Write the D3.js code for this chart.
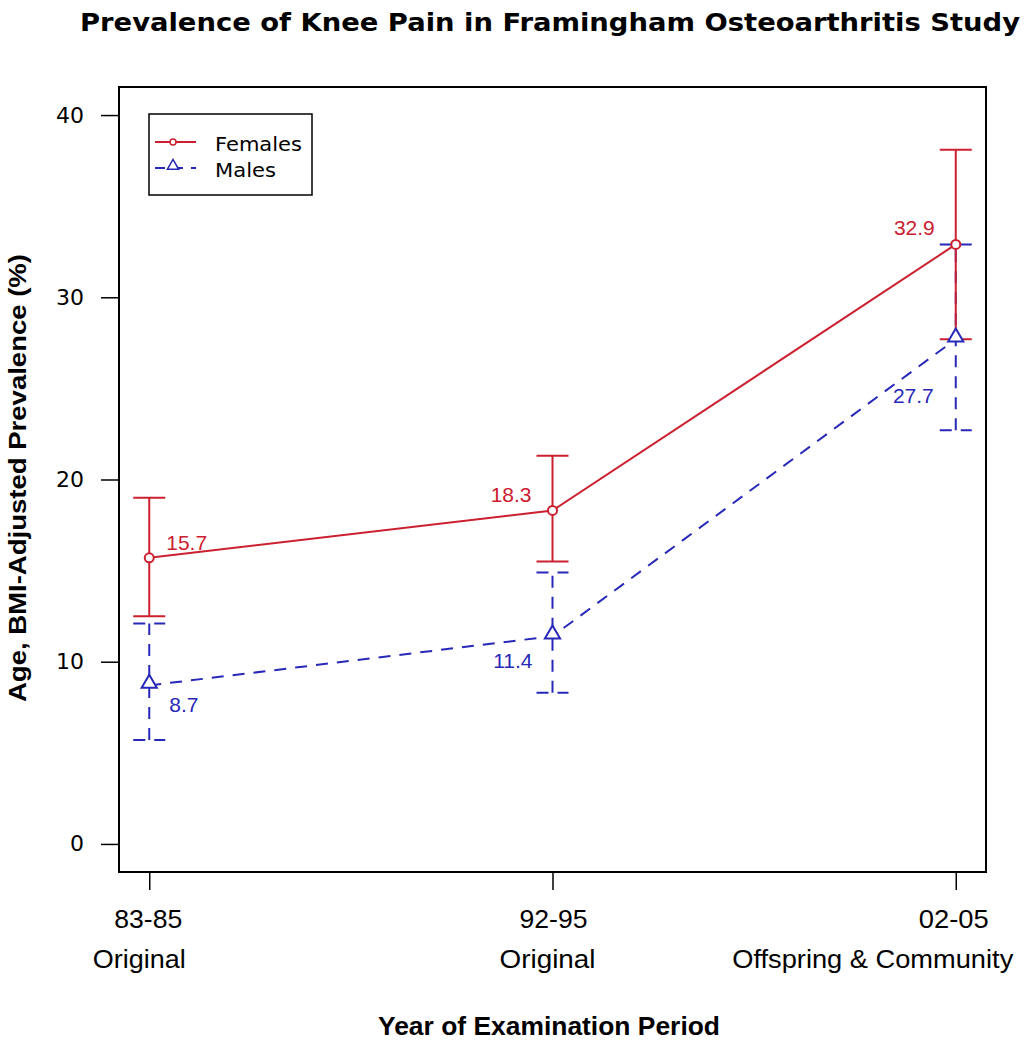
<!DOCTYPE html>
<html><head><meta charset="utf-8">
<script src="https://cdn.jsdelivr.net/npm/d3@7"></script>
<style>body{margin:0;background:#fff}svg{display:block}</style>
</head><body>
<svg id="c" width="1032" height="1050"></svg>
<script>
const periods = ["83-85", "92-95", "02-05"];
const cohorts = ["Original", "Original", "Offspring & Community"];
const femaleValues = [15.7, 18.3, 32.9];
const femaleLower = [12.5, 15.5, 27.7];
const femaleUpper = [19.0, 21.3, 38.1];
const maleValues = [8.7, 11.4, 27.7];
const maleLower = [5.7, 8.3, 22.7];
const maleUpper = [12.1, 14.9, 32.9];
const yTicks = [0, 10, 20, 30, 40];
const seriesNames = ["Females", "Males"];

const svg = d3.select("#c");
const L = 119, R = 986, T = 87, B = 872;
const x = d3.scaleLinear().domain([-0.075, 2.075]).range([L, R]);
const y = d3.scaleLinear().domain([-1.54, 41.54]).range([B, T]);
const red = "#cc2030", blue = "#2828b8";
const sans = "'Liberation Sans', Arial, sans-serif";
const narrow = "'Liberation Sans Narrow', 'Arial Narrow', 'Liberation Sans', sans-serif";
const wide = "'DejaVu Sans', Verdana, sans-serif";

// Title
svg.append("text").attr("x", 550).attr("y", 31).attr("text-anchor", "middle")
  .attr("font-family", wide).attr("font-weight", "bold").attr("font-size", 24)
  .attr("textLength", 940).attr("lengthAdjust", "spacingAndGlyphs")
  .text("Prevalence of Knee Pain in Framingham Osteoarthritis Study");

// Box
svg.append("rect").attr("x", L).attr("y", T).attr("width", R - L).attr("height", B - T)
  .attr("fill", "none").attr("stroke", "#000").attr("stroke-width", 2);

// Y axis
const ya = svg.append("g").attr("transform", `translate(${L},0)`)
  .call(d3.axisLeft(y).tickValues(yTicks).tickSize(18).tickPadding(17).tickFormat(d3.format("d")));
ya.select(".domain").remove();
ya.selectAll("line").attr("stroke", "#000").attr("stroke-width", 1.5);
ya.selectAll("text").attr("font-family", wide).attr("font-size", 22).attr("fill", "#000");

// X axis
const xa = svg.append("g").attr("transform", `translate(0,${B})`)
  .call(d3.axisBottom(x).tickValues([0, 1, 2]).tickSize(18).tickFormat(""));
xa.select(".domain").remove();
xa.selectAll("line").attr("stroke", "#000").attr("stroke-width", 1.5);
const xl = svg.append("g");
const pW = [68, 68, 70];
const cW = [93, 96, 281];
const pX = [149, 554, 953];
const cX = [140, 548, 872];
periods.forEach((p, i) => {
  xl.append("text").attr("x", x(i) + (pX[i] - [150, 553, 955][i])).attr("y", 928)
    .attr("text-anchor", "middle").attr("font-family", sans).attr("font-size", 26)
    .attr("textLength", pW[i]).attr("lengthAdjust", "spacingAndGlyphs").text(p);
  xl.append("text").attr("x", x(i) + (cX[i] - [150, 553, 955][i])).attr("y", 968)
    .attr("text-anchor", "middle").attr("font-family", sans).attr("font-size", 26)
    .attr("textLength", cW[i]).attr("lengthAdjust", "spacingAndGlyphs").text(cohorts[i]);
});

// Axis titles
svg.append("text").attr("x", 549).attr("y", 1035).attr("text-anchor", "middle")
  .attr("font-family", narrow).attr("font-weight", "bold").attr("font-size", 26)
  .attr("textLength", 342).attr("lengthAdjust", "spacingAndGlyphs")
  .text("Year of Examination Period");
svg.append("text").attr("transform", "translate(26,478) rotate(-90)").attr("text-anchor", "middle")
  .attr("font-family", narrow).attr("font-weight", "bold").attr("font-size", 24)
  .attr("textLength", 448).attr("lengthAdjust", "spacingAndGlyphs")
  .text("Age, BMI-Adjusted Prevalence (%)");

const line = d3.line().x((d, i) => x(i)).y(d => y(d));
const capW = 16;

function errorBars(vals, lo, hi, color, dash) {
  const g = svg.append("g").attr("stroke", color).attr("stroke-width", 2).attr("fill", "none");
  vals.forEach((v, i) => {
    g.append("line").attr("x1", x(i)).attr("x2", x(i)).attr("y1", y(lo[i])).attr("y2", y(hi[i]))
      .attr("stroke-dasharray", dash);
    [lo[i], hi[i]].forEach(e => g.append("line").attr("x1", x(i) - capW).attr("x2", x(i) + capW)
      .attr("y1", y(e)).attr("y2", y(e)).attr("stroke-dasharray", dash));
  });
}
// Males
svg.append("path").datum(maleValues).attr("d", line).attr("fill", "none")
  .attr("stroke", blue).attr("stroke-width", 2).attr("stroke-dasharray", "12,9");
errorBars(maleValues, maleLower, maleUpper, blue, "12,9");
// Females
svg.append("path").datum(femaleValues).attr("d", line).attr("fill", "none")
  .attr("stroke", red).attr("stroke-width", 2);
errorBars(femaleValues, femaleLower, femaleUpper, red, null);

// markers
const tri = d3.symbol().type(d3.symbolTriangle).size(100);
maleValues.forEach((v, i) => svg.append("path").attr("d", tri)
  .attr("transform", `translate(${x(i)},${y(v) - 2})`).attr("fill", "#fff")
  .attr("stroke", blue).attr("stroke-width", 2));
femaleValues.forEach((v, i) => svg.append("circle").attr("cx", x(i)).attr("cy", y(v)).attr("r", 4.5)
  .attr("fill", "#fff").attr("stroke", red).attr("stroke-width", 2));

// value labels
const fOff = [[17, -8, "start"], [-21, -8, "end"], [-21, -9, "end"]];
const mOff = [[20, 27, "start"], [-20, 32, "end"], [-22, 64, "end"]];
femaleValues.forEach((v, i) => svg.append("text").attr("x", x(i) + fOff[i][0]).attr("y", y(v) + fOff[i][1])
  .attr("text-anchor", fOff[i][2]).attr("font-family", sans).attr("font-size", 21)
  .attr("fill", red).text(v.toFixed(1)));
maleValues.forEach((v, i) => svg.append("text").attr("x", x(i) + mOff[i][0]).attr("y", y(v) + mOff[i][1])
  .attr("text-anchor", mOff[i][2]).attr("font-family", sans).attr("font-size", 21)
  .attr("fill", blue).text(v.toFixed(1)));

// legend
const lg = svg.append("g").attr("transform", "translate(149,114)");
lg.append("rect").attr("width", 163).attr("height", 81).attr("fill", "#fff")
  .attr("stroke", "#000").attr("stroke-width", 1.5);
const lcol = [red, blue];
const lW = [87, 61];
seriesNames.forEach((s, i) => {
  const yy = 28 + i * 26;
  lg.append("line").attr("x1", 6).attr("x2", 47).attr("y1", yy).attr("y2", yy)
    .attr("stroke", lcol[i]).attr("stroke-width", 2).attr("stroke-dasharray", i ? "10,8" : null);
  if (i === 0) lg.append("circle").attr("cx", 24).attr("cy", yy).attr("r", 3)
    .attr("fill", "#fff").attr("stroke", red).attr("stroke-width", 1.5);
  else lg.append("path").attr("d", d3.symbol().type(d3.symbolTriangle).size(55))
    .attr("transform", `translate(24,${yy - 2})`).attr("fill", "#fff").attr("stroke", blue).attr("stroke-width", 1.5);
  lg.append("text").attr("x", 66).attr("y", yy + 9).attr("font-family", wide)
    .attr("font-size", 20).attr("fill", "#000")
    .attr("textLength", lW[i]).attr("lengthAdjust", "spacingAndGlyphs").text(s);
});
</script>
</body></html>
